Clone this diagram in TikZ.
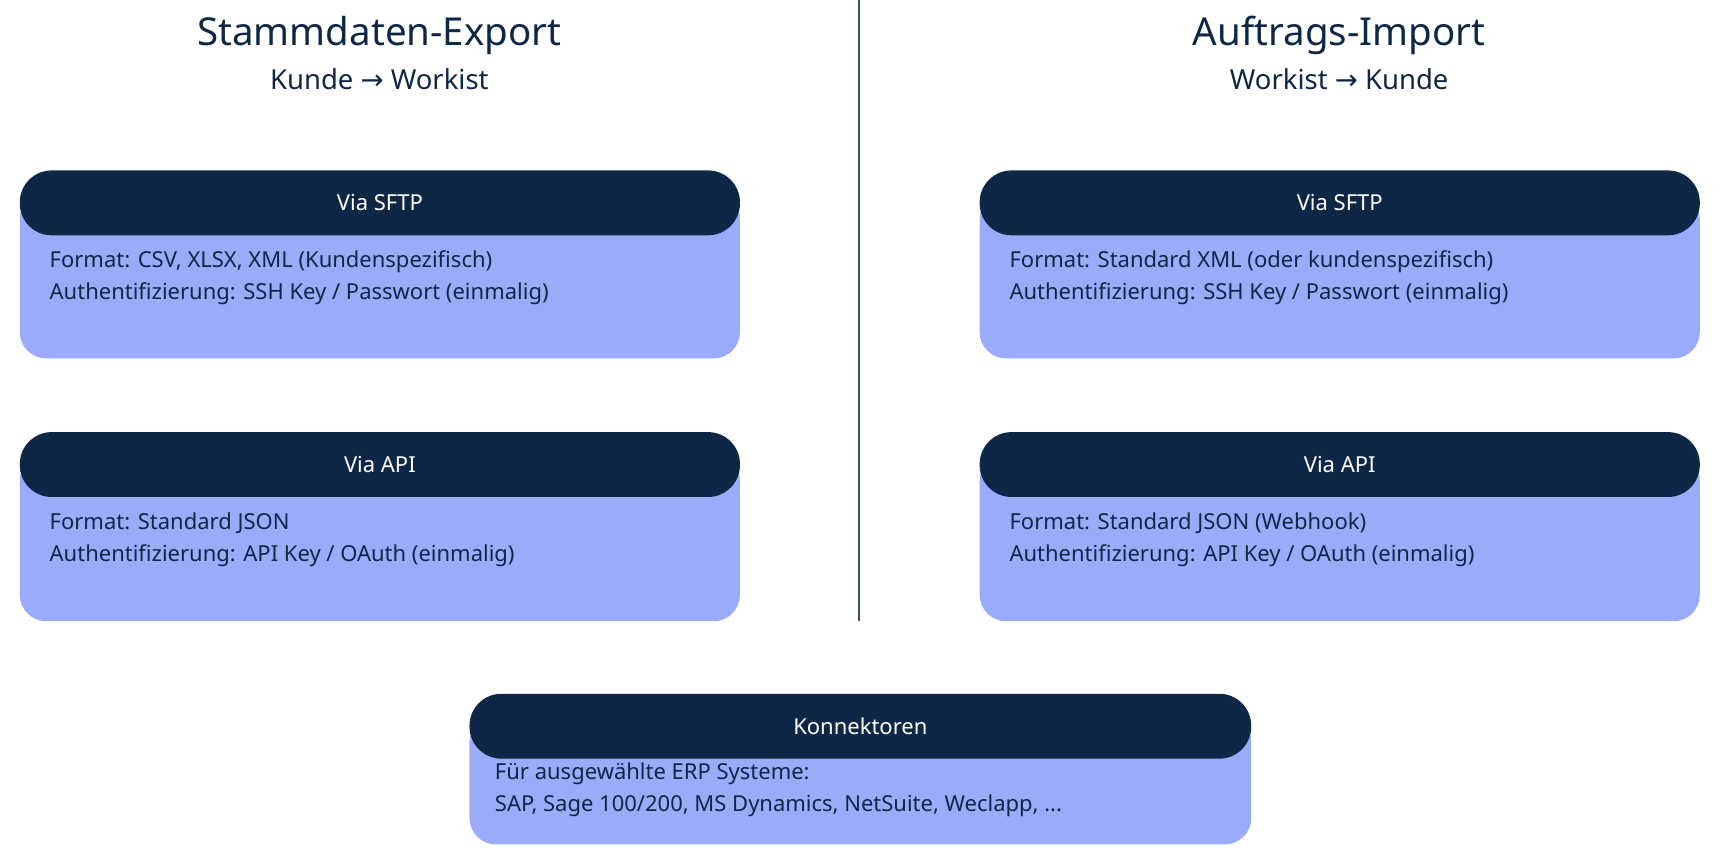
\documentclass[tikz,border=0pt]{standalone}
\usepackage{fontspec}
\setmainfont{Noto Sans}
\newfontfamily\arrowfont{DejaVu Sans}
\usetikzlibrary{positioning}
\definecolor{navy}{HTML}{0F2746}
\definecolor{lightblue}{HTML}{9AABFA}
\begin{document}
\begin{tikzpicture}[x=1pt,y=-1pt,
  head/.style={fill=navy, text=white, rounded corners=29pt, minimum height=59pt, font=\fontsize{20}{24}\selectfont},
  body/.style={fill=lightblue, rounded corners=24pt},
  info/.style={text=navy, anchor=north west, align=left, font=\fontsize{20}{29}\selectfont, inner sep=0pt},
  title/.style={text=navy, font=\fontsize{35}{40}\selectfont\bfseries},
  subtitle/.style={text=navy, font=\fontsize{25}{30}\selectfont}]
\useasboundingbox (0,0) rectangle (1568,780);

% Titel
\node[title] (tl) at (345,32) {Stammdaten-Export};
\node[subtitle] (sl) at (345,72) {Kunde {\arrowfont→} Workist};
\node[title] (tr) at (1218,32) {Auftrags-Import};
\node[subtitle] (sr) at (1218,72) {Workist {\arrowfont→} Kunde};

% Trennlinie
\coordinate (lt) at (781,0);
\coordinate (lb) at (781,565);
\draw[navy!80, line width=1.5pt] (lt) -- (lb);

% links
\fill[body] (18,175) rectangle (673,326);
\node[head, minimum width=655pt] (sftpl) at (345.5,184.5) {Via SFTP};
\node[info] (sftplt) at (45,228) {\textbf{Format}: CSV, XLSX, XML (Kundenspezifisch)\\\textbf{Authentifizierung}: SSH Key / Passwort (einmalig)};

\fill[body] (18,413) rectangle (673,565);
\node[head, minimum width=655pt] (apil) at (345.5,422.5) {Via API};
\node[info] (apilt) at (45,466) {\textbf{Format}: Standard JSON\\\textbf{Authentifizierung}: API Key / OAuth (einmalig)};

% rechts
\fill[body] (891,175) rectangle (1546,326);
\node[head, minimum width=655pt] (sftpr) at (1218.5,184.5) {Via SFTP};
\node[info] (sftprt) at (918,228) {\textbf{Format:} Standard XML (oder kundenspezifisch)\\\textbf{Authentifizierung:} SSH Key / Passwort (einmalig)};

\fill[body] (891,413) rectangle (1546,565);
\node[head, minimum width=655pt] (apir) at (1218.5,422.5) {Via API};
\node[info] (apirt) at (918,466) {\textbf{Format:} Standard JSON (Webhook)\\\textbf{Authentifizierung:} API Key / OAuth (einmalig)};

% Konnektoren
\fill[body] (427,651) rectangle (1138,768);
\node[head, minimum width=711pt] (kon) at (782.5,660.5) {Konnektoren};
\node[info] (kont) at (450,694) {Für ausgewählte ERP Systeme:\\SAP, Sage 100/200, MS Dynamics, NetSuite, Weclapp, ...};
\end{tikzpicture}
\end{document}
